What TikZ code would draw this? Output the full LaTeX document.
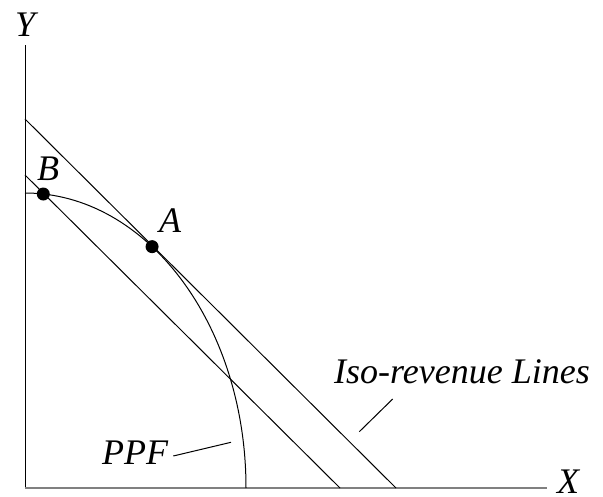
\documentclass[tikz,border=0pt]{standalone}
\usepackage{fontspec}
\setmainfont{Liberation Serif}[ItalicFont={Liberation Serif Italic}]
\begin{document}
\begin{tikzpicture}[x=1pt,y=1pt,
  thinline/.style={line width=1pt, black},
  xaxis/.style={line width=1.8pt, black!50},
  lbl/.style={inner sep=0pt, anchor=base west, font=\fontsize{36}{40}\selectfont\itshape},
  dotmark/.style={circle, fill=black, inner sep=0pt, minimum size=13pt}]
\useasboundingbox (0,0) rectangle (603,496);
% axes
\coordinate (O) at (25,8);
\coordinate (ytop) at (25,451);
\coordinate (xend) at (547,8);
\draw[thinline] (O) -- (ytop);
\draw[xaxis] (O) -- (xend);
\node[lbl] (Ylab) at (15,459) {Y};
\node[lbl] (Xlab) at (557,3) {X};
% iso-revenue lines
\coordinate (u1) at (25,377);
\coordinate (u2) at (396,8);
\coordinate (l1) at (25,321);
\coordinate (l2) at (340,8);
\draw[thinline] (u1) -- (u2);
\draw[thinline] (l1) -- (l2);
% PPF
\coordinate (p0) at (25,303);
\draw[thinline] (p0) arc[start angle=90, end angle=0, x radius=221, y radius=295];
% points
\node[dotmark] (B) at ({25+221*cos(85.25)},{8+295*sin(85.25)}) {};
\node[dotmark] (A) at ({25+221*cos(54.9)},{8+295*sin(54.9)}) {};
\node[lbl] (Blab) at (37,315) {B};
\node[lbl] (Alab) at (159,263) {A};
% labels with leaders
\node[lbl] (Iso) at (334,113) {Iso-revenue Lines};
\coordinate (isoa) at (392.7,97);
\coordinate (isob) at (359.3,64.3);
\draw[thinline] (isoa) -- (isob);
\node[lbl] (PPF) at (102,32) {PPF};
\coordinate (ppfa) at (173.3,40);
\coordinate (ppfb) at (231,53.7);
\draw[thinline] (ppfa) -- (ppfb);
\end{tikzpicture}
\end{document}
